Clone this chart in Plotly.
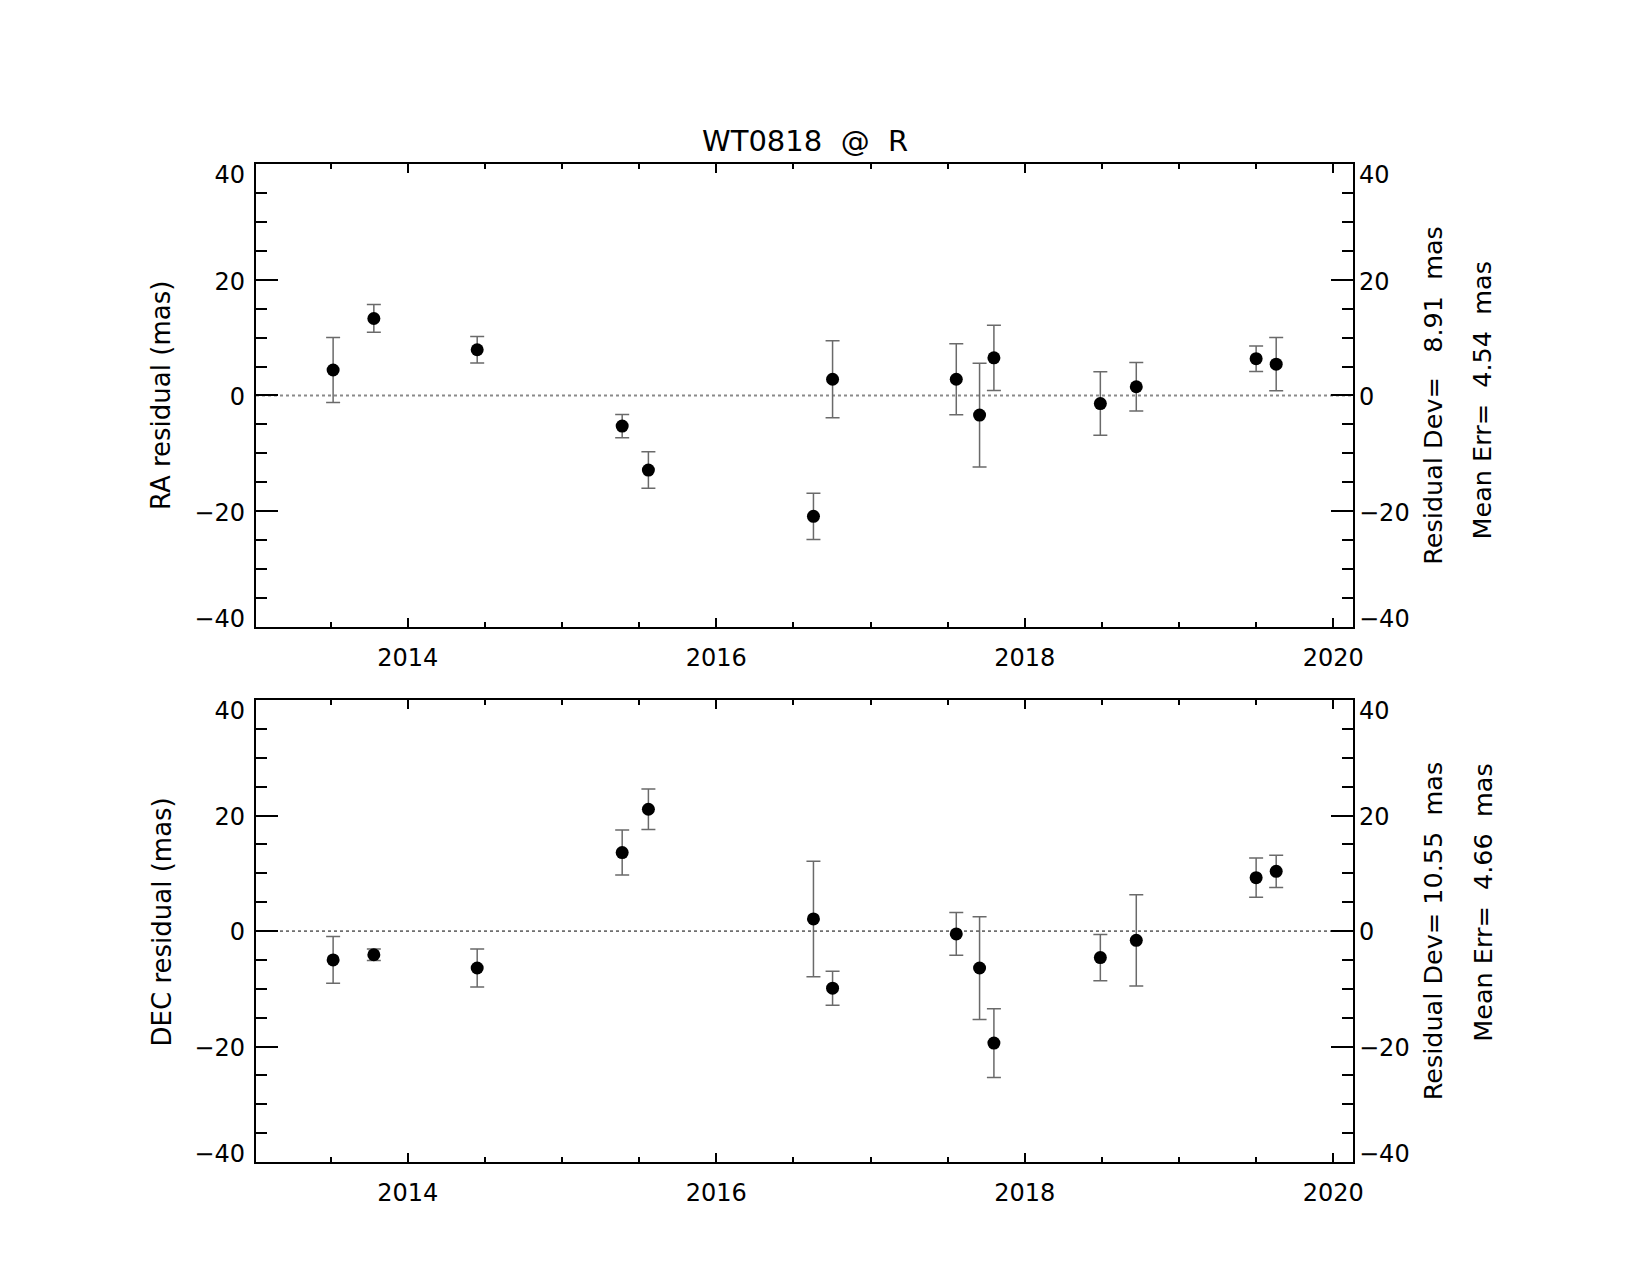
import plotly.graph_objects as go

# ---------------- data ----------------
epochs = [2013.516, 2013.78, 2014.45, 2015.39, 2015.56, 2016.63, 2016.754,
          2017.556, 2017.707, 2017.80, 2018.49, 2018.723, 2019.50, 2019.63]

ra_resid = [4.4, 13.3, 7.9, -5.3, -12.9, -20.9, 2.8, 2.8, -3.4, 6.5, -1.4, 1.5, 6.35, 5.4]
ra_err = [5.6, 2.4, 2.3, 2.0, 3.15, 4.0, 6.65, 6.15, 8.95, 5.65, 5.5, 4.2, 2.2, 4.6]

dec_resid = [-5.0, -4.1, -6.4, 13.6, 21.1, 2.1, -9.9, -0.5, -6.4, -19.4, -4.6, -1.6, 9.25, 10.35]
dec_err = [4.05, 1.0, 3.3, 3.9, 3.5, 10.0, 2.95, 3.7, 8.9, 5.95, 4.0, 7.9, 3.4, 2.8]

NB = "\u00a0"
title_text = "WT0818" + NB * 2 + "@" + NB * 2 + "R"
ra_label = "RA residual (mas)"
dec_label = "DEC residual (mas)"
ra_dev_text = "Residual Dev=" + NB * 3 + "8.91" + NB * 2 + "mas"
ra_err_text = "Mean Err=" + NB * 2 + "4.54" + NB * 2 + "mas"
dec_dev_text = "Residual Dev=" + NB + "10.55" + NB * 2 + "mas"
dec_err_text = "Mean Err=" + NB * 2 + "4.66" + NB * 2 + "mas"

x_range = [2013.016, 2020.128]
y_range = [-40, 40]
x_ticks = [2014, 2016, 2018, 2020]
y_ticks = [-40, -20, 0, 20, 40]
y_ticktext = ["\u221240", "\u221220", "0", "20", "40"]

# ---------------- figure ----------------
FONT = "'DejaVu Sans', sans-serif"
fig = go.Figure()

err_color = "#6a6a6a"

# IDL-style: end labels pulled inside the axis range (style offsets, in data units)
label_shift = [1.5, -0.25, -0.15, -0.25, -1.8]
y_label_pos = [v + s for v, s in zip(y_ticks, label_shift)]


def add_panel(xa, ya, extra_axes, yvals, evals):
    fig.add_trace(go.Scatter(
        x=epochs, y=yvals, mode="markers", xaxis=xa, yaxis=ya,
        marker=dict(color="black", size=13, symbol="circle"),
        error_y=dict(type="data", array=evals, visible=True,
                     color=err_color, thickness=1.5, width=7),
        showlegend=False, hoverinfo="x+y"))
    for ax in extra_axes:
        fig.add_trace(go.Scatter(
            x=epochs, y=yvals, mode="markers", xaxis=xa, yaxis=ax,
            marker=dict(color="rgba(0,0,0,0)", size=1),
            showlegend=False, hoverinfo="skip"))


add_panel("x", "y", ["y2", "y5"], ra_resid, ra_err)
add_panel("x2", "y3", ["y4", "y6"], dec_resid, dec_err)

top_dom = [0.5362, 1.0]
bot_dom = [0.0, 0.4628]

xcommon = dict(range=x_range, tickvals=x_ticks, ticks="inside", ticklen=9,
               tickwidth=2, tickcolor="black", showline=True, linecolor="black",
               linewidth=2, mirror="ticks", showgrid=False, zeroline=False,
               tickfont=dict(family=FONT, size=24, color="black"),
               ticklabelstandoff=8,
               minor=dict(dtick=0.5, tick0=2014, ticks="inside", ticklen=5,
                          tickwidth=1.5, tickcolor="black", showgrid=False))

ycommon = dict(range=y_range, tickvals=y_ticks, ticks="inside", ticklen=22,
               tickwidth=2, tickcolor="black", showline=True, linecolor="black",
               linewidth=2, mirror="ticks", showgrid=False, zeroline=False,
               showticklabels=False,
               minor=dict(dtick=5, tick0=0, ticks="inside", ticklen=11,
                          tickwidth=1.5, tickcolor="black", showgrid=False))


def label_axis(over, side, standoff):
    return dict(overlaying=over, range=y_range, tickvals=y_label_pos,
                ticktext=y_ticktext, ticks="", showline=False,
                showgrid=False, zeroline=False, side=side,
                tickfont=dict(family=FONT, size=24, color="black"),
                ticklabelstandoff=standoff)


fig.update_layout(
    width=1650, height=1275,
    paper_bgcolor="white", plot_bgcolor="white",
    margin=dict(l=248, r=305, t=156, b=121),
    xaxis=dict(domain=[0, 1], anchor="y", **xcommon),
    yaxis=dict(domain=top_dom, anchor="x", **ycommon),
    yaxis2=dict(anchor="x", **label_axis("y", "right", 5)),
    yaxis5=dict(anchor="x", **label_axis("y", "left", 10)),
    xaxis2=dict(domain=[0, 1], anchor="y3", **xcommon),
    yaxis3=dict(domain=bot_dom, anchor="x2", **ycommon),
    yaxis4=dict(anchor="x2", **label_axis("y3", "right", 5)),
    yaxis6=dict(anchor="x2", **label_axis("y3", "left", 10)),
    showlegend=False,
)

# zero lines
fig.add_shape(type="line", xref="x domain", yref="y", x0=0, x1=1, y0=0, y1=0,
              line=dict(color="#8a8a8a", width=2, dash="dot"), layer="below")
fig.add_shape(type="line", xref="x2 domain", yref="y3", x0=0, x1=1, y0=0, y1=0,
              line=dict(color="black", width=1, dash="dot"), layer="below")

annots = []
annots.append(dict(text=title_text, xref="paper", yref="paper", x=0.5, y=1.0,
                   yshift=4, xanchor="center", yanchor="bottom", showarrow=False,
                   font=dict(family=FONT, size=29, color="black")))
annots.append(dict(text=ra_label, xref="paper", yref="y", x=-0.086, y=0,
                   textangle=-90, xanchor="center", yanchor="middle", showarrow=False,
                   font=dict(family=FONT, size=26, color="black")))
annots.append(dict(text=dec_label, xref="paper", yref="y3", x=-0.086, y=1.6,
                   textangle=-90, xanchor="center", yanchor="middle", showarrow=False,
                   font=dict(family=FONT, size=26, color="black")))
annots.append(dict(text=ra_dev_text, xref="paper", yref="y", x=1.0732, y=0,
                   textangle=-90, xanchor="center", yanchor="middle", showarrow=False,
                   font=dict(family=FONT, size=25.5, color="black")))
annots.append(dict(text=ra_err_text, xref="paper", yref="y", x=1.1178, y=-0.84,
                   textangle=-90, xanchor="center", yanchor="middle", showarrow=False,
                   font=dict(family=FONT, size=25.5, color="black")))
annots.append(dict(text=dec_dev_text, xref="paper", yref="y3", x=1.0732, y=0,
                   textangle=-90, xanchor="center", yanchor="middle", showarrow=False,
                   font=dict(family=FONT, size=25.5, color="black")))
annots.append(dict(text=dec_err_text, xref="paper", yref="y3", x=1.1178, y=4.94,
                   textangle=-90, xanchor="center", yanchor="middle", showarrow=False,
                   font=dict(family=FONT, size=25.5, color="black")))
fig.update_layout(annotations=annots)

fig.write_html("out.html")
